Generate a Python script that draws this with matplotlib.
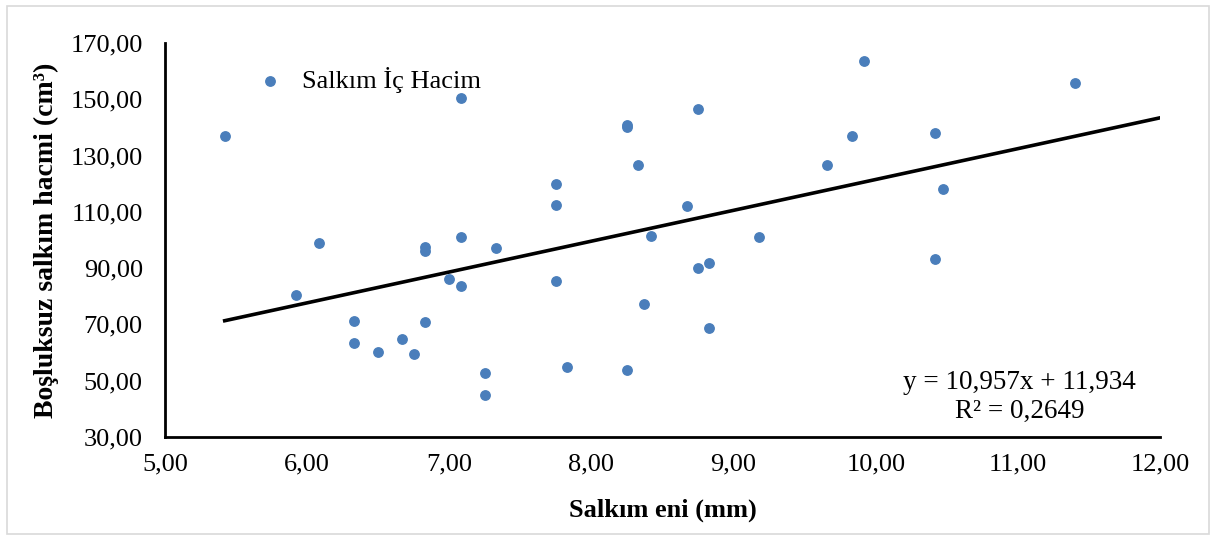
import matplotlib
matplotlib.use("Agg")
import matplotlib.pyplot as plt
import numpy as np
from matplotlib.patches import Rectangle

plt.rcParams['font.family'] = ['Liberation Serif', 'DejaVu Serif']

# Salkım eni (mm) and Boşluksuz salkım hacmi (cm3)
salkim_eni = [5.42, 5.92, 6.08, 6.33, 6.33, 6.50, 6.67, 6.75, 6.83, 6.83,
              6.83, 7.00, 7.08, 7.08, 7.08, 7.25, 7.25, 7.33, 7.75, 7.75,
              7.75, 7.83, 8.25, 8.25, 8.25, 8.33, 8.37, 8.42, 8.67, 8.75,
              8.75, 8.83, 8.83, 9.18, 9.66, 9.83, 9.92, 10.42, 10.42, 10.47,
              11.40]
ic_hacim = [137.0, 80.5, 99.0, 71.2, 63.5, 60.2, 64.8, 59.5, 97.6, 96.0,
            71.0, 86.1, 150.5, 101.0, 83.8, 52.7, 45.0, 97.0, 119.9, 112.3,
            85.4, 55.0, 140.9, 140.2, 53.8, 126.7, 77.3, 101.4, 112.1, 146.6,
            90.0, 91.9, 68.8, 101.0, 126.7, 137.0, 163.5, 138.1, 93.2, 118.1,
            155.8]

egim = 10.957
kesisim = 11.934
r2 = 0.2649

fig = plt.figure(figsize=(12.16, 5.4), dpi=100)
ax = fig.add_axes([0.1357, 0.1907, 0.8183, 0.7297])

ax.scatter(salkim_eni, ic_hacim, s=46, color='#4A7EBB', zorder=3, label='Salkım İç Hacim')

# linear trend line
xt = np.array([min(salkim_eni), 12.0])
ax.plot(xt, egim * xt + kesisim, color='black', lw=2.6, zorder=2)

ax.set_xlim(5, 12)
ax.set_ylim(30, 170)
ax.set_xticks(np.arange(5, 12.01, 1))
ax.set_yticks(np.arange(30, 170.1, 20))
ax.xaxis.set_major_formatter(lambda v, p: f"{v:.2f}".replace('.', ','))
ax.yaxis.set_major_formatter(lambda v, p: f"{v:.2f}".replace('.', ','))
ax.tick_params(length=0, labelsize=19)
ax.tick_params(axis='x', pad=12)
ax.tick_params(axis='y', pad=16)

for s in ['top', 'right']:
    ax.spines[s].set_visible(False)
for s in ['left', 'bottom']:
    ax.spines[s].set_linewidth(2)

ax.set_xlabel('Salkım eni (mm)', fontsize=19, fontweight='bold')
ax.set_ylabel('Boşluksuz salkım hacmi (cm³)', fontsize=20, fontweight='bold')
ax.xaxis.set_label_coords(0.5, -0.155)
ax.yaxis.set_label_coords(-0.107, 0.5)

ax.legend(loc='upper left', bbox_to_anchor=(0.068, 1.0), frameon=False,
          fontsize=19, handlelength=1.0, handletextpad=0.72, markerscale=1.0)

ax.text(0.859, 0.1015,
        f"y = {egim:.3f}x + {kesisim:.3f}".replace('.', ',') + "\n" +
        f"R² = {r2:.4f}".replace('.', ','),
        transform=ax.transAxes, ha='center', va='center', multialignment='center',
        fontsize=19.5, linespacing=1.2)

fig.patches.append(Rectangle((0.006, 0.012), 0.988, 0.976, transform=fig.transFigure,
                             fill=False, edgecolor='#d9d9d9', lw=1.2))

fig.savefig('out.png', dpi=100)
